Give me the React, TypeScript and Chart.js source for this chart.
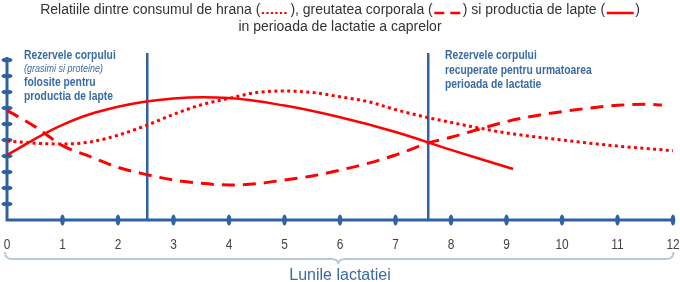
import React, { useEffect, useRef } from "react";
import { Chart, registerables } from "chart.js";

Chart.register(...registerables);

// ---------- DATA ----------
const TITLE_PARTS = [
  "Relatiile dintre consumul de hrana (",
  "), greutatea corporala (",
  ") si productia de lapte (",
  ")",
];
const TITLE_LINE2 = "in perioada de lactatie a caprelor";
const X_TICKS = ["0", "1", "2", "3", "4", "5", "6", "7", "8", "9", "10", "11", "12"];
const Y_TICKS = [0, 1, 2, 3, 4, 5, 6, 7, 8, 9, 10];
const PHASE_BOUNDS = [2.52, 7.58];
const LEFT_NOTE = ["Rezervele corpului", "(grasimi si proteine)", "folosite pentru", "productia de lapte"];
const RIGHT_NOTE = ["Rezervele corpului", "recuperate pentru urmatoarea", "perioada de lactatie"];
const X_TITLE = "Lunile lactatiei";

const feedMonths = [0, 0.5, 1, 1.5, 2, 2.5, 3, 3.5, 4, 4.5, 5, 5.5, 6, 6.5, 7, 7.58, 8, 8.5, 9, 10, 11, 12];
const feedValues = [4.94, 4.8, 4.75, 4.88, 5.3, 5.9, 6.6, 7.2, 7.6, 7.97, 8.06, 7.97, 7.7, 7.4, 6.9, 6.4, 6.1, 5.75, 5.44, 5.0, 4.62, 4.33];

const weightMonths = [0, 0.5, 1, 1.5, 2, 2.5, 3, 3.5, 4, 4.5, 5, 5.5, 6, 6.5, 7, 7.58, 8, 8.5, 9, 9.5, 10, 10.5, 11, 11.5, 11.8];
const weightValues = [6.85, 5.85, 4.65, 3.96, 3.29, 2.85, 2.5, 2.29, 2.19, 2.27, 2.5, 2.75, 3.12, 3.54, 4.06, 4.8, 5.17, 5.67, 6.15, 6.5, 6.77, 7.0, 7.17, 7.23, 7.19];

const milkMonths = [0, 1, 2, 3, 4, 5, 6, 7, 8, 9.12];
const milkValues = [4.06, 5.95, 7.08, 7.6, 7.62, 7.15, 6.42, 5.5, 4.38, 3.19];

// ---------- STYLE ----------
const RED = "#ff0000";
const AXIS = "#2f62a0";
const NOTE = "#3a6ba5";
const BRACE = "#b7c8e0";
const TXT = "#333333";
const FONT = "'Liberation Sans', Arial, sans-serif";

const toPts = (xs: number[], ys: number[]) => xs.map((x, i) => ({ x, y: ys[i] }));

function drawText(ctx: CanvasRenderingContext2D, text: string, x: number, y: number, font: string, color: string, sx = 1, align: CanvasTextAlign = "left") {
  ctx.save();
  ctx.font = font;
  ctx.fillStyle = color;
  ctx.textBaseline = "alphabetic";
  ctx.translate(x, y);
  ctx.scale(sx, 1);
  ctx.textAlign = align;
  ctx.fillText(text, 0, 0);
  ctx.restore();
}

const decor = {
  id: "decor",
  beforeDatasetsDraw(chart: any) {
    const { ctx, scales } = chart;
    const xs = scales.x;
    const ys = scales.y;
    const x0 = xs.getPixelForValue(0);
    const x12 = xs.getPixelForValue(12);
    const y0 = ys.getPixelForValue(0);
    const yTop = ys.getPixelForValue(10);
    ctx.save();
    ctx.strokeStyle = AXIS;
    ctx.lineCap = "butt";
    // phase lines
    ctx.lineWidth = 2.5;
    PHASE_BOUNDS.forEach((b) => {
      const px = Math.round(xs.getPixelForValue(b)) + 0.25;
      ctx.beginPath();
      ctx.moveTo(px, 53);
      ctx.lineTo(px, y0);
      ctx.stroke();
    });
    // axes
    ctx.lineWidth = 3;
    ctx.beginPath();
    ctx.moveTo(x0, yTop - 3);
    ctx.lineTo(x0, y0 + 1.5);
    ctx.moveTo(x0 - 1.5, y0);
    ctx.lineTo(x12 + 1, y0);
    ctx.stroke();
    // tick markers
    ctx.fillStyle = AXIS;
    X_TICKS.forEach((_, i) => {
      if (i === 0) return;
      ctx.beginPath();
      ctx.ellipse(xs.getPixelForValue(i), y0, 2.3, 5.5, 0, 0, Math.PI * 2);
      ctx.fill();
    });
    Y_TICKS.forEach((v) => {
      if (v === 0) return;
      ctx.beginPath();
      ctx.ellipse(x0, ys.getPixelForValue(v), 5.5, 2.3, 0, 0, Math.PI * 2);
      ctx.fill();
    });
    ctx.restore();
  },
  afterDraw(chart: any) {
    const { ctx, scales } = chart;
    const xs = scales.x;
    ctx.save();
    // title line 1 with inline legend symbols
    const tFont = `14px ${FONT}`;
    ctx.font = tFont;
    const symW = 27;
    const pad = 1.5;
    let total = 0;
    TITLE_PARTS.forEach((p, i) => {
      total += ctx.measureText(p).width;
      if (i < 3) total += symW + 2 * pad;
    });
    let cx = 340 - total / 2;
    const base1 = 13.5;
    TITLE_PARTS.forEach((p, i) => {
      drawText(ctx, p, cx, base1, tFont, TXT);
      ctx.font = tFont;
      cx += ctx.measureText(p).width;
      if (i < 3) {
        const sx = cx + pad;
        ctx.save();
        ctx.strokeStyle = RED;
        ctx.lineWidth = i === 0 ? 2.2 : 2.5;
        ctx.setLineDash(i === 0 ? [2.2, 2.3] : i === 1 ? [10, 6] : []);
        ctx.beginPath();
        ctx.moveTo(sx, base1 - 0.5);
        ctx.lineTo(sx + symW, base1 - 0.5);
        ctx.stroke();
        ctx.restore();
        cx += symW + 2 * pad;
      }
    });
    drawText(ctx, TITLE_LINE2, 340, 31, tFont, TXT, 1, "center");

    // notes
    const bFont = `bold 12px ${FONT}`;
    const iFont = `italic 10px ${FONT}`;
    const lx = 24;
    drawText(ctx, LEFT_NOTE[0], lx, 59, bFont, NOTE, 0.86);
    drawText(ctx, LEFT_NOTE[1], lx, 72, iFont, NOTE, 0.9);
    drawText(ctx, LEFT_NOTE[2], lx, 86, bFont, NOTE, 0.86);
    drawText(ctx, LEFT_NOTE[3], lx, 100, bFont, NOTE, 0.86);
    const rx = 445;
    drawText(ctx, RIGHT_NOTE[0], rx, 59, bFont, NOTE, 0.86);
    drawText(ctx, RIGHT_NOTE[1], rx, 73.5, bFont, NOTE, 0.86);
    drawText(ctx, RIGHT_NOTE[2], rx, 87.5, bFont, NOTE, 0.86);

    // x tick labels
    const kFont = `14px ${FONT}`;
    X_TICKS.forEach((t, i) => {
      drawText(ctx, t, xs.getPixelForValue(i), 249, kFont, "#444444", 0.85, "center");
    });

    // brace
    const L = xs.getPixelForValue(0) - 2;
    const R = xs.getPixelForValue(12) + 0.5;
    const M = (L + R) / 2 - 1;
    const yb = 259;
    ctx.strokeStyle = BRACE;
    ctx.lineWidth = 2;
    ctx.setLineDash([]);
    ctx.beginPath();
    ctx.moveTo(L, 252);
    ctx.quadraticCurveTo(L, yb, L + 7, yb);
    ctx.lineTo(M - 7, yb);
    ctx.quadraticCurveTo(M, yb, M, yb + 5);
    ctx.quadraticCurveTo(M, yb, M + 7, yb);
    ctx.lineTo(R - 7, yb);
    ctx.quadraticCurveTo(R, yb, R, 252);
    ctx.stroke();

    drawText(ctx, X_TITLE, 340, 280, `16px ${FONT}`, NOTE, 1, "center");
    ctx.restore();
  },
};

export default function App() {
  const ref = useRef<HTMLCanvasElement | null>(null);
  useEffect(() => {
    if (!ref.current) return;
    const chart = new Chart(ref.current, {
      type: "line",
      data: {
        datasets: [
          {
            label: "Consum de hrana",
            data: toPts(feedMonths, feedValues),
            borderColor: RED,
            borderWidth: 3,
            borderDash: [3, 3.4],
            pointRadius: 0,
            cubicInterpolationMode: "monotone",
            clip: false,
          },
          {
            label: "Greutatea corporala",
            data: toPts(weightMonths, weightValues),
            borderColor: RED,
            borderWidth: 3,
            borderDash: [13, 8],
            pointRadius: 0,
            cubicInterpolationMode: "monotone",
            clip: false,
          },
          {
            label: "Productia de lapte",
            data: toPts(milkMonths, milkValues),
            borderColor: RED,
            borderWidth: 2.5,
            pointRadius: 0,
            tension: 0.4,
            clip: false,
          },
        ],
      },
      options: {
        responsive: false,
        animation: false,
        events: [],
        layout: { padding: { left: 7, right: 7, top: 60, bottom: 62 } },
        plugins: { legend: { display: false }, title: { display: false }, tooltip: { enabled: false } },
        scales: {
          x: { type: "linear", min: 0, max: 12, display: false },
          y: { type: "linear", min: 0, max: 10, display: false },
        },
      },
      plugins: [decor],
    } as any);
    return () => chart.destroy();
  }, []);
  return (
    <div style={{ position: "fixed", left: 0, top: 0, width: 680, height: 282, background: "#fff" }}>
      <canvas ref={ref} width={680} height={282} style={{ display: "block" }} />
    </div>
  );
}
